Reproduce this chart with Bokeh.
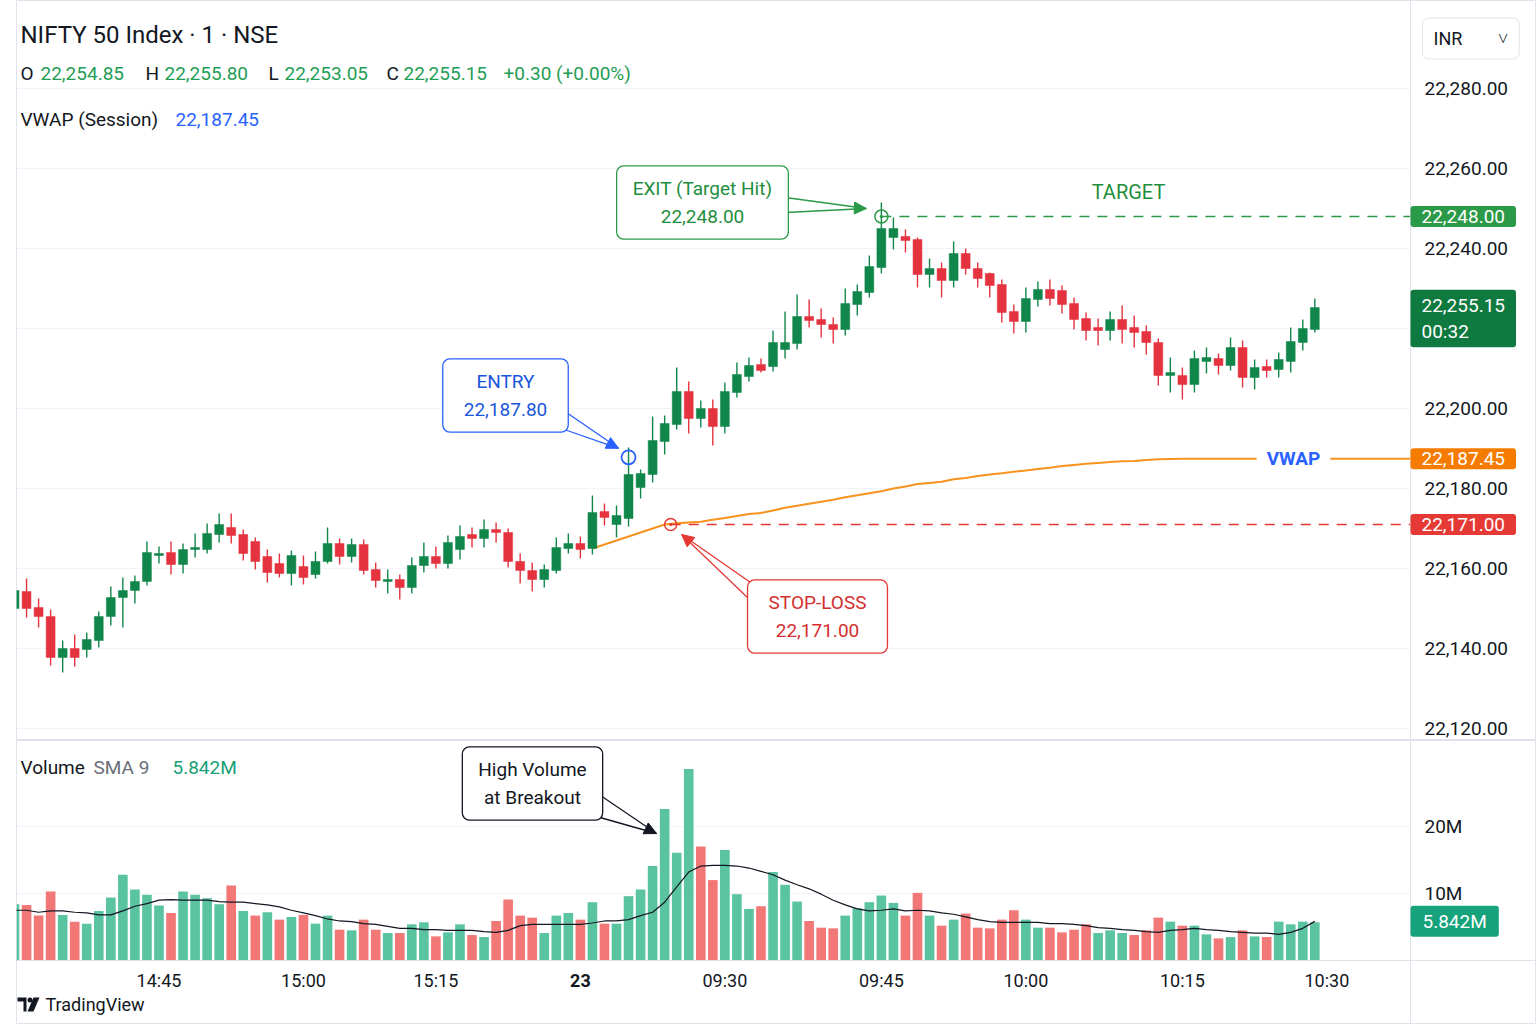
import numpy as np
from bokeh.plotting import figure
from bokeh.layouts import column
from bokeh.models import (Range1d, Label, FixedTicker, NumeralTickFormatter, Arrow,
                          NormalHead, ColumnDataSource, LinearAxis)
from bokeh.embed import file_html
from bokeh.resources import INLINE

# ---------------------------------------------------------------- data
# 1-minute NIFTY 50 bars (previous session close -> 23rd morning)
opens = [22150.0, 22154.25, 22150.25, 22148.0, 22137.75, 22140.0, 22139.75, 22142.0, 22148.0, 22152.75,
         22154.5, 22156.75, 22163.25, 22164.0, 22161.0, 22164.75, 22164.75, 22168.5, 22170.25, 22168.5,
         22166.75, 22163.0, 22161.25, 22158.75, 22160.5, 22158.5, 22161.75, 22166.25, 22163.0, 22166.0,
         22159.75, 22156.75, 22157.25, 22155.25, 22160.75, 22163.0, 22161.25, 22164.75, 22168.5, 22167.5,
         22169.75, 22169.0, 22161.75, 22159.5, 22157.25, 22159.5, 22165.0, 22166.25, 22165.0, 22174.25,
         22171.0, 22172.5, 22180.25, 22183.5, 22191.75, 22196.0, 22204.25, 22197.5, 22200.0, 22195.5,
         22204.0, 22208.0, 22211.0, 22210.5, 22214.75, 22216.25, 22223.0, 22222.25, 22221.0, 22219.75,
         22226.0, 22229.0, 22235.25, 22242.75, 22243.0, 22242.25, 22233.5, 22235.0, 22232.0, 22238.75,
         22235.0, 22233.75, 22231.0, 22224.25, 22221.75, 22227.25, 22229.75, 22229.5, 22226.25, 22222.5,
         22220.25, 22219.5, 22222.25, 22220.25, 22219.25, 22216.5, 22208.25, 22208.25, 22206.0, 22211.75,
         22212.5, 22210.75, 22215.25, 22207.75, 22210.5, 22209.75, 22211.75, 22216.5, 22219.75]
highs = [22155.0, 22157.5, 22152.5, 22149.75, 22142.0, 22143.5, 22144.0, 22149.25, 22155.5, 22157.75,
         22158.25, 22166.75, 22165.5, 22166.75, 22166.25, 22168.75, 22171.25, 22173.75, 22173.75, 22169.75,
         22167.75, 22164.75, 22163.75, 22164.5, 22163.25, 22164.25, 22170.25, 22167.5, 22167.5, 22167.25,
         22161.5, 22159.75, 22158.5, 22162.75, 22166.5, 22165.5, 22168.25, 22170.75, 22170.25, 22172.25,
         22171.5, 22170.0, 22163.75, 22161.5, 22161.0, 22167.75, 22168.75, 22168.0, 22178.25, 22176.25,
         22175.75, 22190.25, 22184.75, 22198.0, 22198.25, 22210.25, 22206.75, 22202.0, 22202.25, 22206.5,
         22211.5, 22212.75, 22212.5, 22219.5, 22224.25, 22228.5, 22227.25, 22225.0, 22222.75, 22230.0,
         22231.0, 22238.25, 22251.5, 22247.75, 22244.75, 22242.75, 22237.5, 22236.5, 22241.75, 22240.0,
         22236.5, 22234.0, 22232.25, 22226.0, 22230.25, 22231.75, 22232.25, 22230.75, 22227.75, 22224.0,
         22222.5, 22224.25, 22225.75, 22223.25, 22220.75, 22217.5, 22212.75, 22210.25, 22214.5, 22215.25,
         22213.75, 22217.75, 22217.0, 22212.25, 22212.25, 22214.0, 22220.25, 22222.25, 22227.5]
lows = [22149.5, 22147.75, 22145.25, 22135.75, 22134.0, 22135.5, 22137.75, 22140.25, 22145.75, 22145.25,
        22151.25, 22155.75, 22161.25, 22158.5, 22158.75, 22162.75, 22163.75, 22166.5, 22166.25, 22162.0,
        22159.75, 22156.5, 22157.75, 22155.75, 22156.0, 22157.5, 22161.25, 22161.0, 22161.5, 22158.5,
        22155.25, 22153.75, 22152.25, 22153.75, 22159.0, 22160.0, 22160.0, 22162.25, 22165.25, 22165.25,
        22166.5, 22160.25, 22156.25, 22154.25, 22155.25, 22158.75, 22163.75, 22162.5, 22163.5, 22170.75,
        22167.75, 22170.5, 22177.5, 22181.5, 22188.5, 22194.75, 22193.75, 22195.25, 22190.75, 22193.75,
        22202.75, 22206.75, 22209.0, 22209.25, 22212.5, 22214.75, 22220.25, 22217.75, 22216.25, 22218.25,
        22223.25, 22227.75, 22233.75, 22239.75, 22239.0, 22230.25, 22230.25, 22227.75, 22230.25, 22233.5,
        22230.25, 22227.75, 22221.5, 22218.75, 22219.0, 22225.5, 22225.75, 22223.75, 22219.75, 22217.0,
        22215.75, 22217.0, 22216.25, 22215.25, 22213.5, 22205.75, 22204.0, 22202.25, 22204.0, 22208.75,
        22208.5, 22209.5, 22205.25, 22204.75, 22207.75, 22207.75, 22209.0, 22214.5, 22219.0]
closes = [22154.5, 22150.0, 22148.0, 22137.75, 22140.0, 22137.75, 22142.25, 22148.0, 22152.75, 22154.5,
          22156.75, 22164.0, 22163.75, 22161.0, 22164.75, 22165.25, 22168.75, 22171.0, 22168.25, 22163.75,
          22161.75, 22159.0, 22158.75, 22163.25, 22157.75, 22161.75, 22166.25, 22163.0, 22166.0, 22159.5,
          22157.0, 22157.25, 22155.25, 22160.75, 22163.0, 22161.25, 22166.5, 22168.0, 22167.5, 22169.75,
          22169.0, 22161.75, 22159.5, 22157.25, 22159.75, 22165.25, 22166.25, 22164.75, 22174.0, 22172.75,
          22173.25, 22183.5, 22183.75, 22192.0, 22196.25, 22204.25, 22197.5, 22200.0, 22195.5, 22204.25,
          22208.5, 22210.75, 22209.5, 22216.5, 22216.5, 22223.0, 22222.0, 22221.0, 22219.75, 22226.25,
          22229.25, 22235.5, 22245.0, 22245.0, 22242.0, 22233.5, 22235.0, 22232.0, 22238.75, 22235.0,
          22232.5, 22230.75, 22224.0, 22221.75, 22227.5, 22229.75, 22227.5, 22226.0, 22222.25, 22219.5,
          22219.5, 22222.25, 22219.75, 22219.0, 22216.5, 22208.25, 22209.0, 22206.0, 22212.5, 22212.75,
          22210.75, 22215.25, 22207.75, 22210.25, 22209.5, 22212.25, 22216.75, 22220.0, 22225.25]

# volume per bar, millions
volumes = [8.4, 8.3, 6.7, 10.3, 6.8, 5.8, 5.5, 7.4, 9.4, 12.8,
           10.6, 9.8, 8.2, 7.1, 10.3, 9.8, 9.3, 8.4, 11.2, 7.4,
           6.7, 7.2, 6.1, 6.5, 6.8, 5.5, 6.7, 4.6, 4.5, 6.1,
           4.6, 4.1, 4.1, 5.4, 5.7, 3.6, 4.2, 5.4, 3.8, 3.5,
           5.9, 9.1, 6.7, 6.4, 4.1, 6.7, 7.1, 6.1, 8.7, 5.5,
           5.5, 9.6, 10.6, 14.1, 22.6, 16.1, 28.6, 17.0, 12.0, 16.5,
           9.9, 7.7, 8.1, 13.2, 11.3, 8.8, 5.9, 4.9, 4.8, 6.7,
           7.8, 8.7, 9.7, 8.6, 6.7, 10.1, 6.7, 5.2, 6.1, 7.0,
           4.9, 4.8, 6.1, 7.5, 6.1, 4.9, 4.9, 4.2, 4.6, 5.4,
           4.1, 4.5, 4.1, 3.8, 4.5, 6.4, 5.8, 5.2, 5.2, 3.9,
           3.3, 3.5, 4.5, 3.6, 3.5, 5.8, 5.4, 5.8, 5.7]
vol_up = [1, 0, 0, 0, 1, 0, 1, 1, 1, 1,
          1, 1, 1, 0, 1, 1, 1, 1, 0, 1,
          0, 1, 0, 1, 0, 1, 1, 0, 1, 0,
          0, 1, 0, 1, 1, 0, 1, 1, 0, 1,
          0, 0, 0, 0, 1, 1, 1, 0, 1, 0,
          1, 1, 1, 1, 1, 1, 1, 0, 0, 1,
          1, 1, 0, 1, 1, 1, 0, 0, 0, 1,
          1, 1, 1, 1, 0, 0, 1, 0, 1, 0,
          0, 0, 0, 0, 1, 1, 0, 0, 0, 0,
          1, 1, 1, 0, 0, 0, 1, 0, 1, 1,
          0, 1, 0, 1, 0, 1, 1, 1, 1]
vol_sma9 = [7.5, 7.5, 7.2, 7.4, 7.4, 7.2, 7.1, 6.8, 6.8, 7.4,
            8.1, 8.5, 9.0, 9.1, 9.0, 9.0, 9.0, 8.8, 8.7, 8.7,
            8.5, 8.3, 8.0, 7.5, 7.1, 6.7, 6.2, 5.9, 5.8, 5.5,
            5.4, 5.1, 4.8, 4.8, 4.6, 4.6, 4.5, 4.5, 4.5, 4.3,
            4.2, 4.5, 5.2, 5.4, 5.4, 5.4, 5.4, 5.4, 5.6, 5.9,
            5.9, 6.1, 6.7, 7.2, 8.7, 11.0, 13.2, 14.1, 14.2, 14.2,
            14.1, 13.8, 13.3, 12.8, 12.0, 11.3, 10.7, 9.9, 9.0, 8.3,
            7.7, 7.4, 7.5, 7.7, 7.4, 7.5, 7.4, 7.1, 6.9, 6.5,
            6.1, 5.8, 5.7, 5.7, 5.7, 5.7, 5.5, 5.5, 5.4, 5.2,
            4.9, 4.8, 4.6, 4.5, 4.3, 4.2, 4.5, 4.6, 4.8, 4.6,
            4.5, 4.3, 4.2, 4.1, 4.1, 3.9, 4.2, 4.8, 5.842]

# session VWAP, starting at the opening bar of the 23rd
vwap_start = 48
vwap = [22165.0, 22166.0, 22167.0, 22168.0, 22169.0, 22170.0, 22171.0, 22171.3, 22171.5, 22171.7,
        22172.2, 22172.6, 22173.1, 22173.6, 22173.9, 22174.5, 22175.2, 22175.7, 22176.2, 22176.7,
        22177.2, 22177.8, 22178.3, 22178.8, 22179.3, 22180.0, 22180.5, 22181.1, 22181.4, 22181.7,
        22182.3, 22182.6, 22183.1, 22183.5, 22183.8, 22184.2, 22184.5, 22184.9, 22185.2, 22185.6,
        22185.9, 22186.2, 22186.4, 22186.6, 22186.8, 22186.9, 22187.1, 22187.3, 22187.4, 22187.45,
        22187.45, 22187.45, 22187.45, 22187.45, 22187.45, 22187.45, 22187.45, 22187.45, 22187.45,
        22187.45, 22187.45]

price_ticks = [22280, 22260, 22240, 22220, 22200, 22180, 22160, 22140, 22120]
volume_ticks = [10, 20]
time_tick_bars = [12, 24, 35, 47, 59, 72, 84, 97, 109]
time_tick_labels = ["14:45", "15:00", "15:15", "23", "09:30", "09:45", "10:00", "10:15", "10:30"]

entry_bar, entry_price = 51, 22187.80
stop_bar, stop_price = 54.5, 22171.00
exit_bar, exit_price = 72, 22248.00
last_close_text = "22,255.15"
ohlc_text = [("O", "22,254.85"), ("H", "22,255.80"), ("L", "22,253.05"), ("C", "22,255.15")]
change_text = "+0.30 (+0.00%)"

# ---------------------------------------------------------------- layout
W = 1536
FRAME_L = 16          # left edge of both panes
AXIS_X = 1410         # canvas x of the price / volume scale
PRICE_H = 740
VOL_H = 284
VOL_BASE = 220        # canvas offset of the volume baseline inside the lower pane
BAR_PX = 12.04        # pixels per bar
PT_PX = 4.0           # pixels per index point
VOL_PX = 6.7          # pixels per million
FIRST_BAR_PX = 14     # canvas x of the first bar
Y_TOP = 22302.0

x_start = (FRAME_L - FIRST_BAR_PX) / BAR_PX
x_end = x_start + (W - FRAME_L) / BAR_PX


def bx(cx):                     # canvas x -> bar coordinate
    return x_start + (cx - FRAME_L) / BAR_PX


def py(cy):                     # canvas y -> price (price pane)
    return Y_TOP - cy / PT_PX


def vy(cy):                     # canvas y -> volume (volume pane)
    return (PRICE_H + VOL_BASE - cy) / VOL_PX


def bar_px(b):
    return FIRST_BAR_PX + b * BAR_PX


def price_px(v):
    return (Y_TOP - v) * PT_PX


x_axis = bx(AXIS_X)

FONT = "Roboto"
INK = "#131722"
GRID = "#f0f3fa"
BORDER = "#e0e3eb"
UP, DOWN = "#10864a", "#e5323f"
VUP, VDOWN = "#5ac3a0", "#f27878"
ORANGE = "#f7931e"
BLUE = "#2962ff"
GREEN = "#2b9a48"
RED = "#e53935"


def style_axis(ax, size="19px"):
    ax.axis_line_color = BORDER
    ax.major_tick_line_color = None
    ax.minor_tick_line_color = None
    ax.major_label_text_font = FONT
    ax.major_label_text_font_size = size
    ax.major_label_text_color = INK


# ---------------------------------------------------------------- price pane
p = figure(width=W, height=PRICE_H, output_backend="svg", toolbar_location=None,
           x_axis_location=None, y_axis_location=None,
           x_range=Range1d(x_start, x_end), y_range=Range1d(Y_TOP - PRICE_H / PT_PX, Y_TOP),
           min_border_left=FRAME_L, min_border_right=0, min_border_top=0, min_border_bottom=0)
p.background_fill_color = "white"
p.border_fill_color = "white"
p.outline_line_color = BORDER
p.grid.visible = False

ya = LinearAxis(fixed_location=x_axis, ticker=FixedTicker(ticks=price_ticks),
                formatter=NumeralTickFormatter(format="0,0.00"), major_label_standoff=8)
style_axis(ya)
p.add_layout(ya, "right")

# horizontal grid up to the scale
p.segment(x0=x_start, x1=x_axis, y0=price_ticks, y1=price_ticks, line_color=GRID, line_width=1)

bars = np.arange(len(opens))
is_up = [c >= o for o, c in zip(opens, closes)]
csrc = ColumnDataSource(dict(
    x=bars, h=highs, l=lows,
    top=[max(o, c) for o, c in zip(opens, closes)],
    bottom=[min(o, c) for o, c in zip(opens, closes)],
    color=[UP if u else DOWN for u in is_up]))

# VWAP under the candles
vw_x = np.arange(vwap_start, vwap_start + len(vwap))
p.line(vw_x, vwap, line_color=ORANGE, line_width=2)
p.line([vw_x[-1], x_axis], [vwap[-1], vwap[-1]], line_color=ORANGE, line_width=2)

p.segment(x0="x", y0="h", x1="x", y1="l", line_color="color", line_width=1.4, source=csrc)
p.vbar(x="x", width=0.74, top="top", bottom="bottom", fill_color="color",
       line_color="color", line_width=0.5, source=csrc)

# target / stop levels
p.line([exit_bar, x_axis], [exit_price, exit_price], line_color=GREEN, line_width=1.6, line_dash="10 8")
p.line([stop_bar, x_axis], [stop_price, stop_price], line_color=RED, line_width=1.6, line_dash="10 8")

p.scatter([exit_bar], [exit_price], marker="circle_dot", size=13, fill_color=None,
          line_color=GREEN, line_width=1.5)
p.scatter([entry_bar], [entry_price], marker="circle", size=14, fill_color=None,
          line_color=BLUE, line_width=1.8)
p.scatter([stop_bar], [stop_price], marker="circle_dot", size=12, fill_color=None,
          line_color=RED, line_width=1.5)


def screen_label(fig, frame_top, frame_h, cx, cy, text, color=INK, size="19px",
                 align="left", baseline="middle", style="normal", **kw):
    lab = Label(x=cx - FRAME_L, y=frame_h - (cy - frame_top), x_units="screen", y_units="screen",
                text=text, text_color=color, text_font=FONT, text_font_size=size,
                text_align=align, text_baseline=baseline, text_font_style=style, **kw)
    fig.add_layout(lab)
    return lab


# legend rows
screen_label(p, 0, PRICE_H, 20, 34, "NIFTY 50 Index \u00b7 1 \u00b7 NSE", size="24px")
ohlc_x = [(20, 40), (145, 164), (268, 284), (386, 403)]
for (k, val), (kx, vx) in zip(ohlc_text, ohlc_x):
    screen_label(p, 0, PRICE_H, kx, 73, k)
    screen_label(p, 0, PRICE_H, vx, 73, val, color="#1f9d55")
screen_label(p, 0, PRICE_H, 503, 73, change_text, color="#1f9d55")
screen_label(p, 0, PRICE_H, 20, 119, "VWAP (Session)")
screen_label(p, 0, PRICE_H, 175, 119, f"{vwap[-1]:,.2f}", color=BLUE)

# currency selector
screen_label(p, 0, PRICE_H, 1422, 38, "INR" + "\u00a0" * 8 + "\u02c5", size="18px",
             background_fill_color="white", border_line_color=BORDER, border_radius=6, padding=(11, 10))


def axis_tag(fig, yval, text, fill, padx=11, pady=4, y_offset=0):
    # label box starts right at the scale line
    fig.add_layout(Label(x=x_axis, y=yval, text=text, y_offset=y_offset,
                         text_align="left", text_baseline="middle", text_color="white",
                         text_font=FONT, text_font_size="19px", text_line_height=1.15,
                         background_fill_color=fill, border_radius=3, padding=(padx, pady)))


axis_tag(p, exit_price, f"{exit_price:,.2f}", GREEN)
axis_tag(p, closes[-1], last_close_text + "\n00:32", "#0f7a40", y_offset=-11)
axis_tag(p, vwap[-1], f"{vwap[-1]:,.2f}", "#f57c00")
axis_tag(p, stop_price, f"{stop_price:,.2f}", RED)

# in-chart level labels
p.add_layout(Label(x=bx(1128), y=py(191), text="TARGET", text_align="center", text_baseline="middle",
                   text_color="#1e8e3e", text_font=FONT, text_font_size="20px"))
p.add_layout(Label(x=bx(1293), y=vwap[-1], text="VWAP", text_align="center", text_baseline="middle",
                   text_color=BLUE, text_font=FONT, text_font_size="19px", text_font_style="bold",
                   background_fill_color="white", padding=(10, 0)))


def callout(fig, to_x, to_y, cx, cy, text, edge, ink, pad, base_a, base_b, tip):
    (ax, ay), (bx_, by_), (tx, ty) = base_a, base_b, tip
    fig.patch([to_x(ax), to_x(tx), to_x(bx_)], [to_y(ay), to_y(ty), to_y(by_)],
              fill_color="white", line_color=edge, line_width=1.3)
    fig.add_layout(Label(x=to_x(cx), y=to_y(cy), text=text, text_align="center", text_baseline="middle",
                         text_color=ink, text_font=FONT, text_font_size="19px", text_line_height=1.22,
                         background_fill_color="white", border_line_color=edge, border_line_width=1.3,
                         border_radius=7, padding=pad))
    mx, my = (ax + bx_) / 2, (ay + by_) / 2
    fig.add_layout(Arrow(end=NormalHead(size=12, fill_color=edge, line_color=edge),
                         x_start=to_x(mx + (tx - mx) * 0.6), y_start=to_y(my + (ty - my) * 0.6),
                         x_end=to_x(tx), y_end=to_y(ty), line_alpha=0))


ex_px, ey_px = bar_px(exit_bar), price_px(exit_price)
nx_px, ny_px = bar_px(entry_bar), price_px(entry_price)
sx_px, sy_px = bar_px(stop_bar), price_px(stop_price)

callout(p, bx, py, 702, 202, f"EXIT (Target Hit)\n{exit_price:,.2f}", GREEN, "#1e8e3e", (16, 11),
        (785, 197), (785, 212), (ex_px - 15, ey_px - 8))
callout(p, bx, py, 505, 395, f"ENTRY\n{entry_price:,.2f}", BLUE, "#1a56db", (21, 11),
        (566, 412), (558, 427), (nx_px - 10, ny_px - 9))
callout(p, bx, py, 817, 616, f"STOP-LOSS\n{stop_price:,.2f}", RED, "#d32f2f", (21, 11),
        (750, 582), (748, 598), (sx_px + 11, sy_px + 10))

# ---------------------------------------------------------------- volume pane
v = figure(width=W, height=VOL_H, output_backend="svg", toolbar_location=None,
           x_axis_location=None, y_axis_location=None, x_range=p.x_range,
           y_range=Range1d(-(VOL_H - VOL_BASE) / VOL_PX, VOL_BASE / VOL_PX),
           min_border_left=FRAME_L, min_border_right=0, min_border_top=0, min_border_bottom=0)
v.background_fill_color = "white"
v.border_fill_color = "white"
v.outline_line_color = BORDER
v.grid.visible = False

vya = LinearAxis(fixed_location=x_axis, ticker=FixedTicker(ticks=volume_ticks), major_label_standoff=8)
vya.major_label_overrides = {t: f"{t}M" for t in volume_ticks}
style_axis(vya)
v.add_layout(vya, "right")

vxa = LinearAxis(fixed_location=0, ticker=FixedTicker(ticks=time_tick_bars), major_label_standoff=3)
vxa.major_label_overrides = {b: ("" if lab == "23" else lab) for b, lab in zip(time_tick_bars, time_tick_labels)}
style_axis(vxa, "18px")
v.add_layout(vxa, "below")

v.segment(x0=x_start, x1=x_axis, y0=volume_ticks, y1=volume_ticks, line_color=GRID, line_width=1)

vsrc = ColumnDataSource(dict(x=bars, v=volumes, color=[VUP if u else VDOWN for u in vol_up]))
v.vbar(x="x", top="v", bottom=0, width=0.8, fill_color="color", line_color=None, source=vsrc)
v.line(bars, vol_sma9, line_color="#131722", line_width=1.2)

screen_label(v, PRICE_H, VOL_H, 20, 767, "Volume")
screen_label(v, PRICE_H, VOL_H, 93, 767, "SMA 9", color="#6a6d78")
screen_label(v, PRICE_H, VOL_H, 172, 767, f"{vol_sma9[-1]:.3f}M", color="#18a077")
day_bar = time_tick_bars[time_tick_labels.index("23")]
screen_label(v, PRICE_H, VOL_H, bar_px(day_bar), 980, "23", size="18px", align="center", style="bold")

# brand mark + wordmark in the bottom-left corner
v.patch([bx(17), bx(26), bx(26), bx(23), bx(23), bx(17)],
        [vy(997), vy(997), vy(1011), vy(1011), vy(1001), vy(1001)], fill_color=INK, line_color=None)
v.scatter([bx(29.5)], [vy(999.5)], marker="circle", size=5, fill_color=INK, line_color=None)
v.patch([bx(33), bx(39), bx(33), bx(27)], [vy(997), vy(997), vy(1011), vy(1011)],
        fill_color=INK, line_color=None)
screen_label(v, PRICE_H, VOL_H, 45, 1004, "TradingView", size="18px")

axis_tag(v, vol_sma9[-1], f"{vol_sma9[-1]:.3f}M", "#16a37c", padx=12)

callout(v, bx, vy, 532, 783, "High Volume\nat Breakout", "#131722", "#131722", (16, 11),
        (600, 795), (596, 816), (656, 833))

out = column(p, v, spacing=0)
open("out.html", "w").write(file_html(out, INLINE))
